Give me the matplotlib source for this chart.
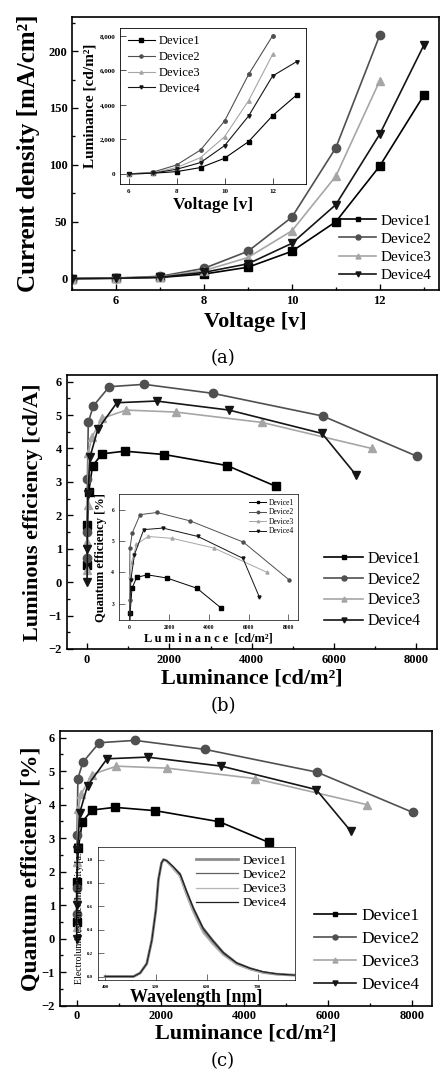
import matplotlib.pyplot as plt
import numpy as np
from matplotlib.ticker import AutoMinorLocator, FuncFormatter

plt.rcParams['font.family'] = ['Liberation Serif', 'DejaVu Serif']
plt.rcParams['mathtext.fontset'] = 'stix'

names = ['Device1', 'Device2', 'Device3', 'Device4']
colors = ['#000000', '#505050', '#a6a6a6', '#151515']
marks = ['s', 'o', '^', 'v']

# (a) current density vs voltage
volt = [5, 6, 7, 8, 9, 10, 11, 12, 13]
j_dev1 = [0, 0.3, 1.0, 4.0, 10.0, 24, 50, 99, 161]
j_dev2 = [0, 0.5, 2.0, 9.0, 24, 54, 115, 214]
j_dev3 = [0, 0.4, 1.5, 7.0, 18.5, 42, 90, 174]
j_dev4 = [0, 0.3, 1.2, 5.5, 13, 31, 65, 127, 205]

# (a) inset luminance vs voltage
volt_in = [6, 7, 8, 9, 10, 11, 12, 13]
lum_dev1 = [0, 40, 135, 370, 910, 1875, 3380, 4575]
lum_dev2 = [0, 100, 520, 1390, 3070, 5770, 8010]
lum_dev3 = [0, 60, 370, 950, 2160, 4250, 6930]
lum_dev4 = [0, 40, 270, 660, 1640, 3360, 5680, 6510]

# (b),(c) efficiency vs luminance
lum_e1 = [0.5, 3, 40, 135, 370, 910, 1875, 3400, 4585]
eff1 = [0.5, 1.7, 2.7, 3.49, 3.84, 3.92, 3.82, 3.49, 2.87]
lum_e2 = [1, 4, 10, 30, 150, 540, 1390, 3060, 5730, 8010]
eff2 = [0.72, 1.5, 3.1, 4.78, 5.27, 5.85, 5.92, 5.65, 4.97, 3.77]
lum_e3 = [1, 4, 12, 35, 115, 360, 950, 2160, 4250, 6920]
eff3 = [0.35, 1.2, 2.3, 3.88, 4.33, 4.9, 5.15, 5.09, 4.78, 4.0]
lum_e4 = [1, 5, 20, 75, 260, 725, 1690, 3450, 5710, 6540]
eff4 = [0.0, 1.0, 2.65, 3.76, 4.57, 5.37, 5.42, 5.15, 4.45, 3.2]

# (c) inset EL spectra
wl = [400, 456, 469, 482, 492, 500, 505, 511, 515, 521, 534, 548, 561, 574,
      593, 613, 633, 659, 685, 711, 738, 780]
el_dev1 = [0, 0, 0.03, 0.11, 0.31, 0.57, 0.83, 0.97, 1.0, 0.99, 0.93, 0.86, 0.70,
           0.56, 0.39, 0.28, 0.19, 0.11, 0.065, 0.035, 0.02, 0.01]
el_dev2 = [0, 0, 0.03, 0.11, 0.31, 0.57, 0.83, 0.97, 1.0, 0.99, 0.94, 0.88, 0.73,
           0.59, 0.42, 0.31, 0.21, 0.12, 0.075, 0.04, 0.022, 0.01]
el_dev3 = [0, 0, 0.03, 0.11, 0.31, 0.57, 0.83, 0.97, 1.0, 0.98, 0.92, 0.85, 0.69,
           0.54, 0.37, 0.27, 0.18, 0.10, 0.06, 0.035, 0.02, 0.01]
el_dev4 = [0, 0, 0.03, 0.11, 0.31, 0.57, 0.83, 0.97, 1.0, 0.99, 0.94, 0.87, 0.72,
           0.58, 0.41, 0.30, 0.20, 0.115, 0.07, 0.04, 0.022, 0.01]


def style(ax, size=9, lw=1.2, minor=True):
    ax.tick_params(direction='in', labelsize=size, width=lw * 0.8, length=4)
    ax.tick_params(which='minor', direction='in', length=2.5, width=lw * 0.8)
    for lab in ax.get_xticklabels() + ax.get_yticklabels():
        lab.set_fontweight('bold')
    for s in ax.spines.values():
        s.set_linewidth(lw)
    if minor:
        ax.xaxis.set_minor_locator(AutoMinorLocator(2))
        ax.yaxis.set_minor_locator(AutoMinorLocator(2))


fig = plt.figure(figsize=(4.4, 10.72), dpi=100)

# ---------- (a) ----------
ax = fig.add_axes([0.164, 0.7295, 0.834, 0.2547])
jd = [j_dev1, j_dev2, j_dev3, j_dev4]
for i in range(4):
    ax.plot(volt[:len(jd[i])], jd[i], color=colors[i], marker=marks[i], ms=6,
            lw=1.2, label=names[i])
ax.set_xlim(5, 13.35)
ax.set_ylim(-10, 230)
ax.set_xticks([6, 8, 10, 12])
ax.set_yticks([0, 50, 100, 150, 200])
style(ax)
ax.set_ylabel('Current density [mA/cm²]', fontsize=18, fontweight='bold', labelpad=6)
ax.set_xlabel('Voltage [v]', fontsize=16, fontweight='bold', labelpad=4)
ax.legend(loc='lower right', frameon=False, fontsize=11, markerscale=0.6,
          handlelength=2.4, labelspacing=0.3, borderaxespad=0.1, handletextpad=0.3)

ins = fig.add_axes([0.273, 0.8284, 0.423, 0.1455])
ld = [lum_dev1, lum_dev2, lum_dev3, lum_dev4]
for i in range(4):
    ins.plot(volt_in[:len(ld[i])], ld[i], color=colors[i], marker=marks[i], ms=2.5,
             lw=0.8, label=names[i])
ins.set_xlim(5.65, 13.4)
ins.set_ylim(-580, 8460)
ins.set_xticks([6, 8, 10, 12])
ins.set_yticks([0, 2000, 4000, 6000, 8000])
ins.yaxis.set_major_formatter(FuncFormatter(lambda v, p: '{:,.0f}'.format(v)))
style(ins, size=5, lw=0.6, minor=False)
ins.set_ylabel('Luminance [cd/m²]', fontsize=11, fontweight='bold', labelpad=2)
ins.set_xlabel('Voltage [v]', fontsize=12.5, fontweight='bold', labelpad=2)
ins.legend(loc='upper left', frameon=False, fontsize=9, markerscale=0.9,
           handlelength=2.2, labelspacing=0.3, borderaxespad=0.2, handletextpad=0.3)

fig.text(0.507, 0.666, '(a)', ha='center', va='center', fontsize=13,
         family='DejaVu Serif')

# ---------- (b) ----------
lum_e = [lum_e1, lum_e2, lum_e3, lum_e4]
eff = [eff1, eff2, eff3, eff4]

ax = fig.add_axes([0.152, 0.3946, 0.841, 0.2556])
for i in range(4):
    ax.plot(lum_e[i], eff[i], color=colors[i], marker=marks[i], ms=6, lw=1.2,
            label=names[i])
ax.set_xlim(-490, 8500)
ax.set_ylim(-2, 6.2)
ax.set_xticks([0, 2000, 4000, 6000, 8000])
ax.set_yticks(range(-2, 7))
style(ax)
ax.set_ylabel('Luminous efficiency [cd/A]', fontsize=16, fontweight='bold', labelpad=4)
ax.set_xlabel('Luminance [cd/m²]', fontsize=16, fontweight='bold', labelpad=2)
ax.legend(loc='lower right', bbox_to_anchor=(0.995, 0.02), frameon=False,
          fontsize=11.5, markerscale=0.6, handlelength=2.4, labelspacing=0.3,
          handletextpad=0.3)

ins = fig.add_axes([0.2705, 0.4216, 0.407, 0.1175])
for i in range(4):
    ins.plot(lum_e[i], eff[i], color=colors[i], marker=marks[i], ms=2.2, lw=0.7,
             label=names[i])
ins.set_xlim(-518, 8483)
ins.set_ylim(2.47, 6.51)
ins.set_xticks([0, 2000, 4000, 6000, 8000])
ins.set_yticks([3, 4, 5, 6])
style(ins, size=4, lw=0.5, minor=False)
ins.set_ylabel('Quantum efficiency [%]', fontsize=9, fontweight='bold', labelpad=3)
ins.set_xlabel('L u m i n a n c e  [cd/m²]', fontsize=9, fontweight='bold', labelpad=2)
ins.legend(loc='upper right', frameon=False, fontsize=5.5, markerscale=0.8,
           handlelength=2.2, labelspacing=0.2, borderaxespad=0.2, handletextpad=0.3)

fig.text(0.507, 0.3414, '(b)', ha='center', va='center', fontsize=13,
         family='DejaVu Serif')

# ---------- (c) ----------
ax = fig.add_axes([0.136, 0.0620, 0.845, 0.2561])
for i in range(4):
    ax.plot(lum_e[i], eff[i], color=colors[i], marker=marks[i], ms=6, lw=1.2,
            label=names[i])
ax.set_xlim(-400, 8460)
ax.set_ylim(-2, 6.2)
ax.set_xticks([0, 2000, 4000, 6000, 8000])
ax.set_yticks(range(-2, 7))
style(ax)
ax.set_ylabel('Quantum efficiency [%]', fontsize=17, fontweight='bold', labelpad=0)
ax.set_xlabel('Luminance [cd/m²]', fontsize=16, fontweight='bold', labelpad=1)
ax.legend(loc='lower right', bbox_to_anchor=(1.0, 0.0), frameon=False,
          fontsize=12.5, markerscale=0.6, handlelength=2.4, labelspacing=0.4,
          handletextpad=0.3, borderaxespad=0.3)

ins = fig.add_axes([0.2227, 0.0858, 0.448, 0.1244])
el = [el_dev1, el_dev2, el_dev3, el_dev4]
el_lw = [2.0, 0.9, 0.9, 0.9]
el_col = ['#8c8c8c', '#606060', '#b5b5b5', '#202020']
for i in range(4):
    ins.plot(wl, el[i], color=el_col[i], lw=el_lw[i], label=names[i])
ins.set_xlim(386, 774)
ins.set_ylim(-0.03, 1.11)
ins.set_xticks([400, 500, 600, 700])
ins.set_yticks([0.0, 0.2, 0.4, 0.6, 0.8, 1.0])
style(ins, size=3.5, lw=0.5, minor=False)
ins.set_ylabel('Electroluminescence Intensity [a.u.]', fontsize=7, labelpad=2)
ins.set_xlabel('Wavelength [nm]', fontsize=13, fontweight='bold', labelpad=0)
ins.legend(loc='upper right', frameon=False, fontsize=9.5, handlelength=3.2,
           labelspacing=0.15, borderaxespad=0.2, handletextpad=0.4)

fig.text(0.507, 0.0103, '(c)', ha='center', va='center', fontsize=13,
         family='DejaVu Serif')

fig.savefig('out.png')
